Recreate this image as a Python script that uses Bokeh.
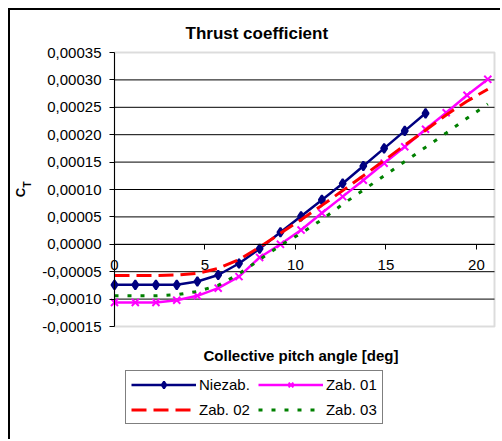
import math

from bokeh.embed import file_html
from bokeh.models import BoxAnnotation, FixedTicker, Label, Legend, LegendItem, Range1d
from bokeh.plotting import figure
from bokeh.resources import INLINE

# Collective pitch angle [deg] (steps of 0.02 rad)
pitch = [0.00, 1.15, 2.29, 3.44, 4.58, 5.73, 6.88, 8.02, 9.17, 10.31,
         11.46, 12.61, 13.75, 14.90, 16.04, 17.19, 18.33, 19.48, 20.63]

# Thrust coefficient C_T for each configuration
ct_niezab = [-0.000074, -0.000074, -0.000074, -0.000074, -0.000068, -0.000056,
             -0.000035, -0.000008, 0.000022, 0.000051, 0.000081, 0.000111,
             0.000143, 0.000175, 0.000207, 0.000239]
ct_zab01 = [-0.000106, -0.000106, -0.000106, -0.000102, -0.000094, -0.000080,
            -0.000059, -0.000024, 0.000000, 0.000026, 0.000057, 0.000087,
            0.000117, 0.000148, 0.000178, 0.000210, 0.000240, 0.000272,
            0.000301]
ct_zab02 = [-0.000057, -0.000057, -0.000057, -0.000056, -0.000053, -0.000044,
            -0.000028, -0.000005, 0.000020, 0.000045, 0.000071, 0.000098,
            0.000125, 0.000153, 0.000181, 0.000208, 0.000236, 0.000261,
            0.000283]
ct_zab03 = [-0.000094, -0.000094, -0.000094, -0.000092, -0.000086, -0.000075,
            -0.000054, -0.000028, -0.000002, 0.000020, 0.000045, 0.000073,
            0.000099, 0.000125, 0.000151, 0.000177, 0.000203, 0.000230,
            0.000256]

series_names = ["Niezab.", "Zab. 01", "Zab. 02", "Zab. 03"]

x_ticks = [0, 5, 10, 15, 20]
y_ticks = [-0.00015, -0.0001, -0.00005, 0.0, 0.00005, 0.0001, 0.00015,
           0.0002, 0.00025, 0.0003, 0.00035]
y_tick_labels = ["-0,00015", "-0,00010", "-0,00005", "0,00000", "0,00005",
                 "0,00010", "0,00015", "0,00020", "0,00025", "0,00030",
                 "0,00035"]

X_MIN, X_MAX = 0, 21
Y_MIN, Y_MAX = -0.00015, 0.00035

FONT = "Liberation Sans"

# Page geometry (px): chart area starts after an 8 px margin + 2 px border,
# the plot area spans PL..PR horizontally and PT..PB vertically.
OFF = 10
W, H = 502, 441
PL, PR, PT, PB = 114, 494, 52, 326

kx = (PR - PL) / (X_MAX - X_MIN)
ky = (PB - PT) / (Y_MAX - Y_MIN)
x_range = Range1d(X_MIN - (PL - OFF) / kx, X_MAX + (W - PR) / kx)
y_range = Range1d(Y_MIN - (H - PB) / ky, Y_MAX + (PT - OFF) / ky)


def sx(px):
    return px - OFF


def sy(py):
    return H - py


p = figure(width=W - OFF, height=H - OFF, output_backend="svg",
           toolbar_location=None, x_range=x_range, y_range=y_range,
           min_border=0)
# chart area frame: left and top edges
p.margin = (8, 0, 0, 8)
p.styles = {"border-left": "2px solid black", "border-top": "2px solid black"}
p.background_fill_color = "white"
p.border_fill_color = "white"
p.outline_line_color = None
p.grid.visible = False

# plot area border
p.add_layout(BoxAnnotation(left=X_MIN, right=X_MAX, bottom=Y_MIN, top=Y_MAX,
                           fill_color=None, line_color="#8c8c8c",
                           line_width=2, level="underlay"))

# horizontal gridlines
grid_y = y_ticks[1:-1]
p.segment(x0=[X_MIN] * len(grid_y), y0=grid_y, x1=[X_MAX] * len(grid_y),
          y1=grid_y, line_color="black", line_width=1)

# y axis at pitch = 0
p.yaxis.fixed_location = X_MIN
p.yaxis.bounds = (Y_MIN, Y_MAX)
p.yaxis.ticker = FixedTicker(ticks=y_ticks)
p.yaxis.major_label_overrides = dict(zip(y_ticks, y_tick_labels))
p.yaxis.axis_line_color = "black"
p.yaxis.major_tick_line_color = "black"
p.yaxis.major_tick_in = 0
p.yaxis.major_tick_out = 5
p.yaxis.minor_tick_line_color = None
p.yaxis.major_label_standoff = 8
p.yaxis.major_label_text_font = FONT
p.yaxis.major_label_text_font_size = "15px"
p.yaxis.major_label_text_color = "black"

# x axis crosses at C_T = 0
p.xaxis.fixed_location = 0
p.xaxis.bounds = (X_MIN, X_MAX)
p.xaxis.ticker = FixedTicker(ticks=x_ticks)
p.xaxis.axis_line_color = "black"
p.xaxis.major_tick_line_color = "black"
p.xaxis.major_tick_in = 0
p.xaxis.major_tick_out = 5
p.xaxis.minor_tick_line_color = None
p.xaxis.major_label_standoff = 11
p.xaxis.major_label_text_font = FONT
p.xaxis.major_label_text_font_size = "15px"
p.xaxis.major_label_text_color = "black"

# series
n = len(ct_niezab)
r_n = p.line(pitch[:n], ct_niezab, line_color="#000080", line_width=2.5)
s_n = p.scatter(pitch[:n], ct_niezab, marker="diamond", size=9,
                fill_color="#000080", line_color="#000080", line_width=2)

r_01 = p.line(pitch, ct_zab01, line_color="#ff00ff", line_width=2.5)
s_01 = p.scatter(pitch, ct_zab01, marker="x", size=10,
                 line_color="#ff00ff", line_width=2)

r_02 = p.line(pitch, ct_zab02, line_color="#ff0000", line_width=3,
              line_dash="15 7")
r_03 = p.line(pitch, ct_zab03, line_color="#008000", line_width=3,
              line_dash="4 9")

# titles
p.add_layout(Label(x=sx(185), y=sy(33), x_units="screen", y_units="screen",
                   text="Thrust coefficient", text_font=FONT,
                   text_font_size="17px", text_font_style="bold",
                   text_color="black", text_align="left",
                   text_baseline="middle"))
p.add_layout(Label(x=sx(203), y=sy(355), x_units="screen", y_units="screen",
                   text="Collective pitch angle [deg]", text_font=FONT,
                   text_font_size="15px", text_font_style="bold",
                   text_color="black", text_align="left",
                   text_baseline="middle"))
p.add_layout(Label(x=sx(19.7), y=sy(192), x_units="screen", y_units="screen",
                   text="C", angle=math.pi / 2, text_font=FONT,
                   text_font_size="13px", text_font_style="bold",
                   text_color="black", text_align="center",
                   text_baseline="middle"))
p.add_layout(Label(x=sx(26.8), y=sy(184), x_units="screen", y_units="screen",
                   text="T", angle=math.pi / 2, text_font=FONT,
                   text_font_size="10px", text_font_style="bold",
                   text_color="black", text_align="center",
                   text_baseline="middle"))

legend = Legend(items=[
    LegendItem(label=series_names[0], renderers=[r_n, s_n]),
    LegendItem(label=series_names[1], renderers=[r_01, s_01]),
    LegendItem(label=series_names[2], renderers=[r_02]),
    LegendItem(label=series_names[3], renderers=[r_03]),
], ncols=2, orientation="horizontal", location=(sx(125), sy(424)))
legend.label_text_font = FONT
legend.label_text_font_size = "15px"
legend.label_text_color = "black"
legend.glyph_width = 65
legend.glyph_height = 17
legend.label_standoff = 3
legend.label_height = 17
legend.spacing = 8
legend.padding = 5
legend.margin = 0
legend.border_line_color = "black"
legend.border_line_width = 1
legend.background_fill_color = "white"
legend.background_fill_alpha = 1
p.add_layout(legend, "center")

open("out.html", "w").write(file_html(p, INLINE))
